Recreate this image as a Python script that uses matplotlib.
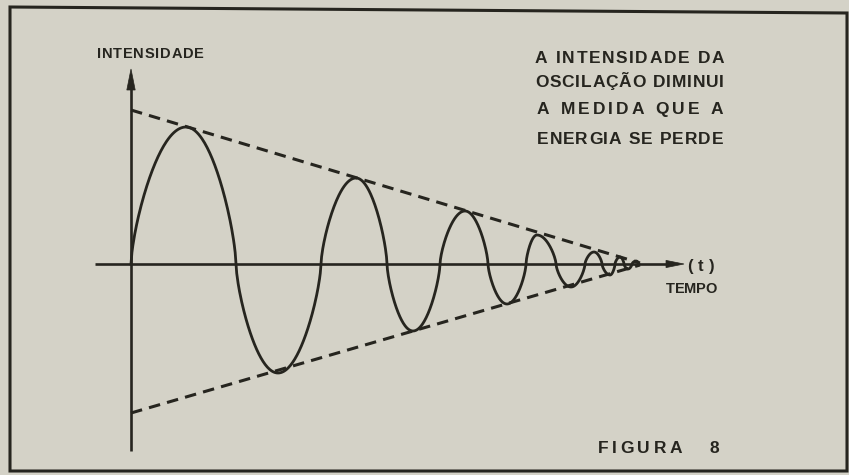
import numpy as np
import matplotlib
matplotlib.use("Agg")
import matplotlib.pyplot as plt
from matplotlib.patches import Polygon

# ---------------- data ----------------
# time axis units: pixels right of the vertical axis; intensity: pixels above the time axis
crossings_t = [0, 105, 190, 256, 309, 357, 395, 425, 454, 471, 484, 493, 501, 508]
extrema_t = [55, 147, 225, 282, 334, 376, 406, 440, 463, 479, 489, 497, 505]
extrema_amp = [137, -109, 86, -67, 53, -40, 29, -23, 12, -11, 7, -5, 3]

upper_env_t = [0, 509]
upper_env_v = [154, 1]
lower_env_t = [0, 509]
lower_env_v = [-149, -1]

y_label = "INTENSIDADE"
x_label_sym = "(t)"
x_label = "TEMPO"
note_lines = ["A INTENSIDADE DA", "OSCILAÇÃO DIMINUI", "A MEDIDA QUE A", "ENERGIA SE PERDE"]
fig_title = "FIGURA"
fig_number = "8"

# ---------------- style ----------------
W, H = 849, 475
X0, Y0 = 131, 264          # pixel position of the origin
PAPER = "#d4d2c7"
INK = "#26251f"
FAM = ["Liberation Sans Narrow", "Liberation Sans", "DejaVu Sans"]
ARCH = 0.68                # roundness of the hand-drawn arches
plt.rcParams["lines.scale_dashes"] = False

fig = plt.figure(figsize=(W / 100, H / 100), dpi=100, facecolor=PAPER)
ax = fig.add_axes([0, 0, 1, 1])
ax.set_xlim(-X0, W - X0)
ax.set_ylim(Y0 - H, Y0)
ax.axis("off")
ax.set_facecolor(PAPER)


def px(x, y):
    """pixel (from top-left) -> data coordinates"""
    return x - X0, Y0 - y


# border
bx = [px(10, 7), px(847, 13), px(847, 471), px(10, 471)]
ax.add_patch(Polygon(bx, closed=True, fill=False, ec=INK, lw=2.2, joinstyle="miter"))

# axes lines
vx0, vy0 = px(131, 451)
vx1, vy1 = px(131, 88)
ax.plot([vx0, vx1], [vy0, vy1], color=INK, lw=1.9, solid_capstyle="butt")
tipx, tipy = px(131, 69)
ax.add_patch(Polygon([(tipx, tipy), (tipx - 4.2, tipy - 21), (tipx + 4.2, tipy - 21)],
                     closed=True, fc=INK, ec=INK, lw=0.5))

hx0, hy0 = px(95, 264)
hx1, hy1 = px(668, 264)
ax.plot([hx0, hx1], [hy0, hy1], color=INK, lw=1.9, solid_capstyle="butt")
tx, ty = px(684, 264)
ax.add_patch(Polygon([(tx, ty), (tx - 18, ty + 3.6), (tx - 18, ty - 3.6)],
                     closed=True, fc=INK, ec=INK, lw=0.5))

# envelope (dashed)
ax.plot(upper_env_t, upper_env_v, color=INK, lw=2.2, linestyle=(0, (8.3, 5.2)),
        dash_capstyle="butt")
ax.plot(lower_env_t, lower_env_v, color=INK, lw=2.2, linestyle=(0, (8.3, 5.2)),
        dash_capstyle="butt")

# damped oscillation: rounded quarter pieces between read crossings and extrema
ts, vs = [], []
for i, (p, A) in enumerate(zip(extrema_t, extrema_amp)):
    a, b = crossings_t[i], crossings_t[i + 1]
    t1 = np.linspace(a, p, 60)
    ts.append(t1)
    vs.append(A * np.sin(np.pi / 2 * (t1 - a) / (p - a)) ** ARCH)
    t2 = np.linspace(p, b, 60)[1:]
    ts.append(t2)
    vs.append(A * np.clip(np.cos(np.pi / 2 * (t2 - p) / (b - p)), 0, 1) ** ARCH)
ax.plot(np.concatenate(ts), np.concatenate(vs), color=INK, lw=2.0)

# ---------------- letter-spaced text ----------------
renderer = fig.canvas.get_renderer()


def spaced(text, x0, x1, yc, fs, space_w=None):
    ppx = fs * 100 / 72.0
    cap = 0.72 * ppx
    if space_w is None:
        space_w = 0.3 * ppx
    objs, widths = [], []
    for ch in text:
        if ch == " ":
            objs.append(None)
            widths.append(space_w)
        else:
            t = fig.text(0, 0, ch, fontsize=fs, fontweight="bold", family=FAM,
                         color=INK, ha="left", va="baseline")
            objs.append(t)
            widths.append(t.get_window_extent(renderer).width)
    n = len(text)
    gap = (x1 - x0 - sum(widths)) / (n - 1) if n > 1 else 0
    x = x0
    base = yc + cap / 2
    for o, w in zip(objs, widths):
        if o is not None:
            o.set_position((x / W, 1 - base / H))
        x += w + gap


spaced(y_label, 97, 204, 53, 10.5)
spaced(x_label_sym, 687, 715, 265, 12)
spaced(x_label, 666, 717, 288, 10.5)

note_x = [(535, 724), (535, 724), (537, 723), (537, 723)]
note_y = [57, 80.5, 108, 138]
for line, (a, b), yc in zip(note_lines, note_x, note_y):
    spaced(line, a, b, yc, 12.5)

spaced(fig_title, 598, 682, 447, 12.5)
spaced(fig_number, 710, 721, 447, 12.5)

fig.savefig("out.png", dpi=100, facecolor=PAPER)
